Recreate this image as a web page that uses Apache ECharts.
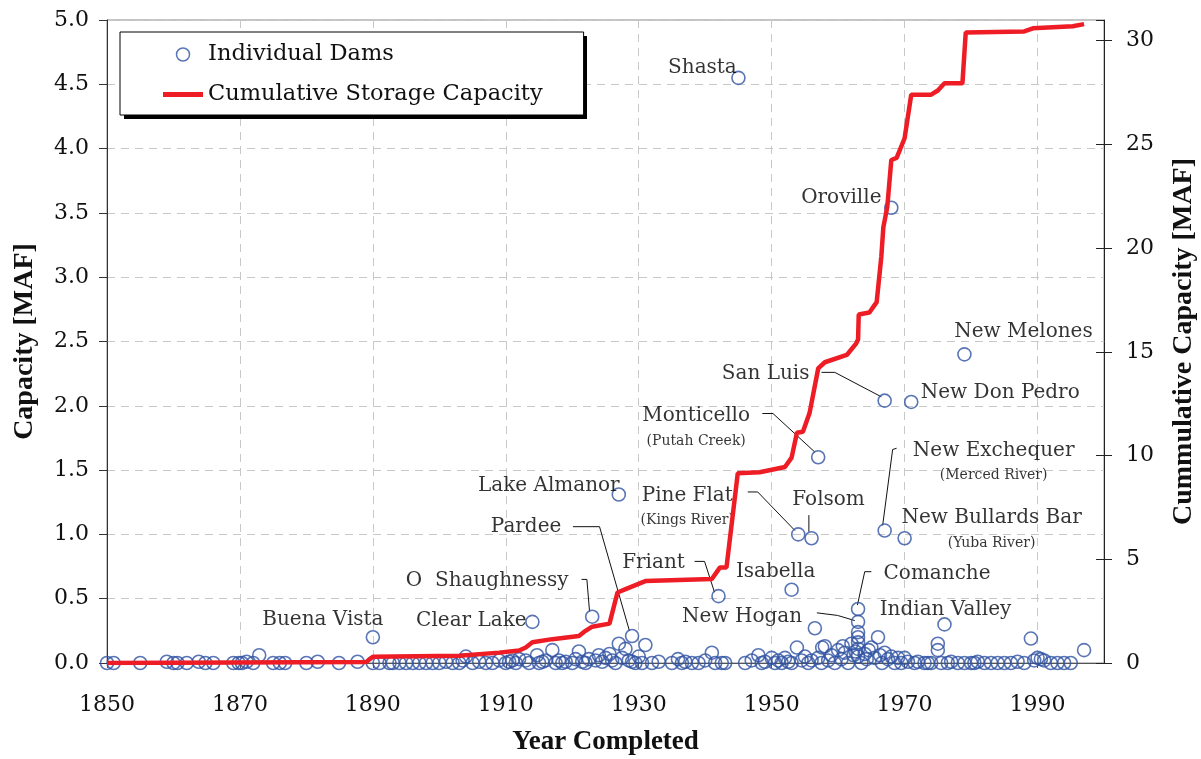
<!DOCTYPE html>
<html><head><meta charset="utf-8">
<script src="https://cdn.jsdelivr.net/npm/echarts@6/dist/echarts.min.js"></script>
<style>html,body{margin:0;padding:0;background:#fff}#c{width:1201px;height:759px}</style>
</head><body><div id="c"></div>
<script>
// ---------- DATA ----------
const X0 = 1850; // first year on the x axis
const xTickYears = [1850, 1870, 1890, 1910, 1930, 1950, 1970, 1990];

// Labelled dams
const namedDamNames  = ['Shasta','Oroville','New Melones','San Luis','New Don Pedro','Monticello','Lake Almanor','Pine Flat','Folsom','New Exchequer','New Bullards Bar','Isabella','Friant','Comanche','New Hogan','Indian Valley','O  Shaughnessy','Clear Lake','Pardee','Buena Vista'];
const namedDamYears  = [1945, 1968, 1979, 1967, 1971, 1957, 1927, 1954, 1956, 1967, 1970, 1953, 1942, 1963, 1963, 1976, 1923, 1914, 1929, 1890];
const namedDamValues = [4.55, 3.54, 2.40, 2.04, 2.03, 1.60, 1.31, 1.00, 0.97, 1.03, 0.97, 0.57, 0.52, 0.42, 0.32, 0.30, 0.36, 0.32, 0.21, 0.20];
const namedDamRivers = {'Monticello':'(Putah Creek)','Pine Flat':'(Kings River)','New Exchequer':'(Merced River)','New Bullards Bar':'(Yuba River)'};

// Other (unlabelled) dams
const otherDamYears = [
 1850,1851,1855,1859,1860,1860.6,1862,1863.8,1864.8,1866,1869,1869.8,1870.3,1871,1872,1872.9,1875,1876,1876.8,1880,1881.7,1884.9,1887.7,1890,
 1891,1892.5,1893,1894,1895,1896,1897,1898,1899,1900,1901,1902,1903,1903.5,1904,1905,1906,1907,1908,1909,1910,1910.5,1911,1911.5,1912,1913,1913.5,1914.7,
 1915,1915.5,1916,1917,1917.5,1918,1918.5,1919,1920,1920.5,1921,1921.5,1922,1922.5,1923.5,1924,1924.5,1925,1925.6,1926,1926.5,1927,1927.5,1928,1928.5,
 1929,1929.5,1930,1930.5,1931,1932,1933,1935,1935.9,1936.5,1937,1938,1939,1940,1941,1941.5,1942.5,1943,
 1946,1947,1948,1948.5,1949,1950,1950.5,1951,1951.5,1952,1952.5,1953,1953.8,1954.5,1955,1955.5,1956,1956.5,1957,1957.5,1957.6,1958,1958.5,1959,1959.5,
 1960,1960.5,1960.7,1961,1961.5,1962,1962.3,1962.6,1963,1963,1963,1963,1963,1963.5,1964,1964.3,1964.6,1965,1965.5,1966,1966.3,1966.6,1967,1967.5,
 1968,1968.5,1969,1969.5,1970,1970.5,1971.5,1972,1973,1973.5,1974,1975,1975,1975.5,1976.5,1977,1978,1979,1980,1980.5,1981,1982,1983,1984,1985,1986,
 1987,1988,1989,1989.5,1990,1990.5,1991,1992,1993,1994,1995,1997];
const otherDamValues = [
 0,0,0,0.01,0,0,0,0.01,0,0,0,0,0,0.01,0,0.06,0,0,0,0,0.01,0,0.01,0,
 0,0,0,0,0,0,0,0,0,0,0.01,0,0,0.02,0.05,0,0.01,0,0,0.02,0,0.01,0.02,0,0.03,0.02,0,0.06,
 0,0.01,0.02,0.10,0,0.02,0,0.01,0,0.03,0.09,0.01,0,0.03,0.02,0.06,0.01,0.04,0.07,0.02,0,0.15,0.04,0.11,0.02,
 0.01,0,0.05,0,0.14,0,0.01,0,0.03,0,0.01,0,0,0.02,0.08,0,0,0,
 0,0.02,0.06,0,0.01,0.04,0,0.02,0,0.04,0.01,0,0.12,0.02,0.05,0,0.02,0.27,0.04,0,0.12,0.13,0.02,0.06,0,
 0.10,0.03,0.13,0.08,0,0.15,0.06,0.09,0.24,0.20,0.16,0.11,0.05,0,0.07,0.03,0.10,0.12,0.04,0.20,0.06,0,0.08,0.03,
 0.05,0,0.04,0,0.04,0.01,0,0.01,0,0,0,0.15,0.10,0,0,0.01,0,0,0,0,0.01,0,0,0,0,0,
 0.01,0,0.19,0.02,0.04,0.03,0.02,0,0,0,0,0.10];

// Cumulative storage capacity (right axis)
const cumYears  = [1850,1889,1890,1903,1909,1912,1913,1914,1917,1921,1922,1923,1925.6,1926.8,1928.3,1931,1936,1941,1942.2,1943.2,1944.9,1948.2,1952,1953,1953.8,1954.7,1955.7,1957,1958,1961.3,1962.7,1963,1963.1,1964.7,1965.8,1966.5,1966.8,1967.4,1968,1968.8,1970,1971,1974,1975,1976,1978.7,1979.2,1988,1989.3,1995.3,1997];
const cumValues = [0,0.05,0.3,0.35,0.5,0.6,0.75,1.0,1.15,1.3,1.55,1.75,1.9,3.4,3.6,3.95,4.0,4.05,4.6,4.6,9.15,9.2,9.45,9.9,11.1,11.15,12.05,14.2,14.5,14.85,15.4,15.6,16.8,16.9,17.4,19.6,21.0,22.0,24.25,24.35,25.3,27.4,27.4,27.6,27.95,27.95,30.4,30.45,30.6,30.7,30.8];

// Leader lines (year, capacity) from label to dam
const leaderNames = ['San Luis','Monticello','Pine Flat','Folsom','New Exchequer','Pardee','Friant','O Shaughnessy','Comanche','New Hogan'];
const leaderYears = [[1957.5,1959.5,1966.5],[1948.6,1950.2,1956.5],[1946.4,1947.9,1953.5],[1955.6,1955.6],[1968.8,1968.2,1966.7],[1920.1,1924.1,1928.6],[1938.4,1939.9,1941.4],[1921.4,1922.2,1922.6],[1965.0,1964.0,1962.9],[1956.8,1959.9,1962.5]];
const leaderValues = [[2.26,2.26,2.07],[1.94,1.94,1.64],[1.33,1.33,1.03],[1.15,1.02],[1.67,1.66,1.07],[1.06,1.06,0.25],[0.79,0.79,0.55],[0.65,0.65,0.40],[0.71,0.71,0.45],[0.39,0.37,0.33]];

// ---------- LABEL PLACEMENT (pixel offsets from the dam marker) ----------
const labelOffsets = {
 'Shasta':[-36,-10],'Oroville':[-50,-10],'New Melones':[59,-23],'San Luis':[-119,-27],'New Don Pedro':[89,-9],
 'Monticello':[-122,-29],'Lake Almanor':[-70,-9],'Pine Flat':[-111,-27],'Folsom':[17,-38],'New Exchequer':[109,-68],
 'New Bullards Bar':[87,-8],'Isabella':[-16,-18],'Friant':[-65,-33],'Comanche':[79,-35],'Indian Valley':[1,-15],
 'New Hogan':[-116,-5],'O  Shaughnessy':[-105,-36],'Clear Lake':[-61,-1],'Pardee':[-106,-109],'Buena Vista':[-50,-17]
};

// ---------- STYLE ----------
const BLUE = '#2f52a3', RED = '#ee1c25', INK = '#000';
const serif = 'DejaVu Serif', bold = 'Liberation Serif';
const gridDash = {show:true, lineStyle:{type:[8,6], color:'#c8c8c8', width:1}};
const LEG = {left:120, top:32, width:463, height:83};

const otherData = otherDamYears.map((y,i)=>[y - X0, otherDamValues[i]]);
const namedData = namedDamNames.map((n,i)=>{
  const r = namedDamRivers[n];
  return {
    name:n,
    value:[namedDamYears[i] - X0, namedDamValues[i]],
    label:{show:true, position:'inside', align:'center', verticalAlign:'middle',
      color:INK, textBorderWidth:0, textShadowBlur:0,
      formatter: r ? '{a|'+n+'}\n{b|'+r+'}' : '{a|'+n+'}',
      rich:{a:{fontFamily:serif, fontSize:20, lineHeight:26, color:INK, textBorderWidth:0, align:'center'},
            b:{fontFamily:serif, fontSize:14, lineHeight:24, color:INK, textBorderWidth:0, align:'center'}}}
  };
});
const nOther = otherData.length;
const cumData = cumYears.map((y,i)=>[y - X0, cumValues[i]]);
const leaderSeries = leaderNames.map((n,k)=>({
  type:'line', xAxisIndex:0, yAxisIndex:0, silent:true, symbol:'none', showSymbol:false, z:1,
  lineStyle:{color:'#111', width:1}, emphasis:{disabled:true},
  data: leaderYears[k].map((y,j)=>[y - X0, leaderValues[k][j]])
}));

const chart = echarts.init(document.getElementById('c'), null, {renderer:'canvas'});
chart.setOption({
  animation:false,
  backgroundColor:'#fff',
  grid:{left:107, right:97, top:20, bottom:96, outerBoundsMode:'none', containLabel:false,
        show:true, borderColor:'#888', borderWidth:1},
  graphic:[{type:'rect', left:LEG.left+4, top:LEG.top+4, z:3, silent:true,
            shape:{width:LEG.width, height:LEG.height}, style:{fill:'#000'}}],
  legend:{
    orient:'vertical', left:LEG.left, top:LEG.top, padding:[11,41,9,43], itemGap:17, z:10,
    itemWidth:40, itemHeight:13, backgroundColor:'#fff', borderColor:'#000', borderWidth:1,
    textStyle:{fontFamily:serif, fontSize:22.5, color:'#111'},
    data:[{name:'Individual Dams', icon:'circle', itemStyle:{color:'rgba(255,255,255,0)', borderColor:BLUE, borderWidth:1.5}},
          {name:'Cumulative Storage Capacity', icon:'path://M0,0H40V5H0Z', itemStyle:{color:RED, borderWidth:0}}]
  },
  xAxis:{
    type:'value', min:xTickYears[0]-X0, max:2000-X0, interval:20,
    name:'Year Completed', nameLocation:'middle', nameGap:66,
    nameTextStyle:{fontFamily:bold, fontWeight:'bold', fontSize:27, color:'#111'},
    axisLine:{show:true, onZero:false, lineStyle:{color:'#555', width:1}},
    axisTick:{show:true, length:5, lineStyle:{color:'#555'}},
    axisLabel:{formatter:v=>String(v + X0), showMaxLabel:false, margin:31, fontFamily:serif, fontSize:22, color:'#111'},
    splitLine:gridDash
  },
  yAxis:[
    {type:'value', min:0, max:5, interval:0.5, position:'left',
     name:'Capacity [MAF]', nameLocation:'middle', nameRotate:90, nameGap:68,
     nameTextStyle:{fontFamily:bold, fontWeight:'bold', fontSize:28, color:'#111'},
     axisLine:{show:true, lineStyle:{color:'#333', width:1}},
     axisTick:{show:true, length:8, lineStyle:{color:'#333'}},
     axisLabel:{formatter:v=>v.toFixed(1), margin:18, fontFamily:serif, fontSize:22, color:'#111'},
     splitLine:gridDash},
    {type:'value', min:0, max:31, interval:5, position:'right',
     name:'Cummulative Capacity [MAF]', nameLocation:'middle', nameRotate:90, nameGap:66,
     nameTextStyle:{fontFamily:bold, fontWeight:'bold', fontSize:28, color:'#111'},
     axisLine:{show:true, lineStyle:{color:'#222', width:1}},
     axisTick:{show:true, length:8, lineStyle:{color:'#222'}},
     axisLabel:{showMaxLabel:false, margin:22, fontFamily:serif, fontSize:22, color:'#111'},
     splitLine:{show:false}},
    {type:'value', min:0, max:31, interval:5, position:'right',
     axisLine:{show:false}, axisLabel:{show:false}, splitLine:{show:false},
     axisTick:{show:true, inside:true, length:8, lineStyle:{color:'#222'}}}
  ],
  series:[
    {name:'Individual Dams', type:'scatter', xAxisIndex:0, yAxisIndex:0, symbol:'circle', symbolSize:13, z:2,
     itemStyle:{color:'rgba(255,255,255,0)', borderColor:BLUE, borderWidth:1.6},
     emphasis:{disabled:true},
     labelLayout: function(p){
       const i = p.dataIndex - nOther;
       if (i < 0) return {};
       const o = labelOffsets[namedDamNames[i]];
       return {dx:o[0], dy:o[1], hideOverlap:false, moveOverlap:null};
     },
     data: otherData.concat(namedData)},
    ...leaderSeries,
    {name:'Cumulative Storage Capacity', type:'line', xAxisIndex:0, yAxisIndex:1, symbol:'none', showSymbol:false, z:3,
     lineStyle:{color:RED, width:4.5}, itemStyle:{color:RED}, emphasis:{disabled:true},
     data: cumData}
  ]
});
</script></body></html>
